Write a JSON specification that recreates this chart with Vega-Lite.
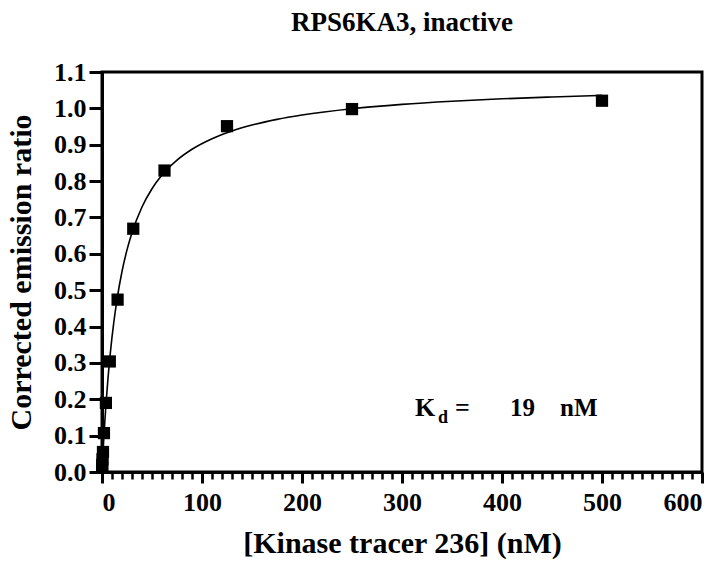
{
  "$schema": "https://vega.github.io/schema/vega-lite/v6.json",
  "autosize": "none",
  "width": 600,
  "height": 400,
  "padding": {"left": 102, "top": 72, "right": 22, "bottom": 96},
  "title": {"text": "RPS6KA3, inactive", "font": "Liberation Serif", "fontSize": 27, "fontWeight": "bold", "color": "black", "offset": 22, "anchor": "middle"},
  "config": {
    "view": {"stroke": "black", "strokeWidth": 3},
    "axis": {"grid": false, "labelFont": "Liberation Serif", "labelFontWeight": "bold", "labelFontSize": 26, "labelColor": "black", "labelOverlap": false, "titleFont": "Liberation Serif", "titleFontWeight": "bold", "titleFontSize": 30, "titleColor": "black", "domainColor": "black", "domainWidth": 3, "tickColor": "black", "tickWidth": 3}
  },
  "datasets": {
    "points": [
      {"conc": 0.12, "ratio": 0.012},
      {"conc": 0.24, "ratio": 0.02},
      {"conc": 0.49, "ratio": 0.035},
      {"conc": 0.98, "ratio": 0.055},
      {"conc": 1.95, "ratio": 0.107},
      {"conc": 3.9, "ratio": 0.19},
      {"conc": 7.8, "ratio": 0.304},
      {"conc": 15.6, "ratio": 0.474},
      {"conc": 31.25, "ratio": 0.669},
      {"conc": 62.5, "ratio": 0.829},
      {"conc": 125, "ratio": 0.951},
      {"conc": 250, "ratio": 0.998},
      {"conc": 500, "ratio": 1.021}
    ],
    "fit": [
      {"conc": 0, "ratio": 0},
      {"conc": 0.5, "ratio": 0.0276},
      {"conc": 1, "ratio": 0.0538},
      {"conc": 2, "ratio": 0.1024},
      {"conc": 3, "ratio": 0.1466},
      {"conc": 4, "ratio": 0.187},
      {"conc": 6, "ratio": 0.258},
      {"conc": 8, "ratio": 0.3185},
      {"conc": 10, "ratio": 0.3707},
      {"conc": 12, "ratio": 0.416},
      {"conc": 15, "ratio": 0.4743},
      {"conc": 20, "ratio": 0.5513},
      {"conc": 25, "ratio": 0.6108},
      {"conc": 30, "ratio": 0.6582},
      {"conc": 40, "ratio": 0.7288},
      {"conc": 50, "ratio": 0.779},
      {"conc": 60, "ratio": 0.8165},
      {"conc": 75, "ratio": 0.8577},
      {"conc": 90, "ratio": 0.8876},
      {"conc": 110, "ratio": 0.9167},
      {"conc": 130, "ratio": 0.9379},
      {"conc": 150, "ratio": 0.9541},
      {"conc": 175, "ratio": 0.9697},
      {"conc": 200, "ratio": 0.9817},
      {"conc": 250, "ratio": 0.9991},
      {"conc": 300, "ratio": 1.011},
      {"conc": 350, "ratio": 1.0196},
      {"conc": 400, "ratio": 1.0263},
      {"conc": 450, "ratio": 1.0314},
      {"conc": 500, "ratio": 1.0356}
    ],
    "one": [{}]
  },
  "layer": [
    {
      "data": {"name": "fit"},
      "mark": {"type": "line", "color": "black", "strokeWidth": 1.6, "interpolate": "monotone"},
      "encoding": {
        "x": {"field": "conc", "type": "quantitative", "scale": {"domain": [0, 600], "nice": false},
              "axis": {"values": [0,10,20,30,40,50,60,70,80,90,100,110,120,130,140,150,160,170,180,190,200,210,220,230,240,250,260,270,280,290,300,310,320,330,340,350,360,370,380,390,400,410,420,430,440,450,460,470,480,490,500,510,520,530,540,550,560,570,580,590,600],
                       "tickCount": 200,
                       "labelOverlap": false,
                       "labelExpr": "datum.value % 100 === 0 ? datum.label : ''",
                       "tickSize": {"condition": {"test": "datum.value % 100 === 0", "value": 11}, "value": 7},
                       "tickWidth": {"condition": {"test": "datum.value % 100 === 0", "value": 3}, "value": 2.5},
                       "labelPadding": 6, "title": "[Kinase tracer 236] (nM)", "titlePadding": 13}},
        "y": {"field": "ratio", "type": "quantitative", "scale": {"domain": [0, 1.1], "nice": false},
              "axis": {"values": [0, 0.1, 0.2, 0.3, 0.4, 0.5, 0.6, 0.7, 0.8, 0.9, 1.0, 1.1], "tickCount": 100, "labelOverlap": false, "format": ".1f", "tickSize": 13, "labelPadding": 3, "title": "Corrected emission ratio", "titlePadding": 17}}
      }
    },
    {
      "data": {"name": "points"},
      "mark": {"type": "point", "shape": "square", "filled": true, "color": "black", "opacity": 1, "size": 150},
      "encoding": {
        "x": {"field": "conc", "type": "quantitative"},
        "y": {"field": "ratio", "type": "quantitative"}
      }
    },
    {
      "data": {"name": "one"},
      "mark": {"type": "text", "font": "Liberation Serif", "fontWeight": "bold", "fontSize": 26, "align": "left", "baseline": "alphabetic", "color": "black"},
      "encoding": {"x": {"datum": 313, "type": "quantitative"}, "y": {"datum": 0.154, "type": "quantitative"}, "text": {"value": "K"}}
    },
    {
      "data": {"name": "one"},
      "mark": {"type": "text", "font": "Liberation Serif", "fontWeight": "bold", "fontSize": 18, "align": "left", "baseline": "alphabetic", "color": "black"},
      "encoding": {"x": {"datum": 336, "type": "quantitative"}, "y": {"datum": 0.135, "type": "quantitative"}, "text": {"value": "d"}}
    },
    {
      "data": {"name": "one"},
      "mark": {"type": "text", "font": "Liberation Serif", "fontWeight": "bold", "fontSize": 26, "align": "left", "baseline": "alphabetic", "color": "black"},
      "encoding": {"x": {"datum": 353, "type": "quantitative"}, "y": {"datum": 0.154, "type": "quantitative"}, "text": {"value": "="}}
    },
    {
      "data": {"name": "one"},
      "mark": {"type": "text", "font": "Liberation Serif", "fontWeight": "bold", "fontSize": 25, "align": "left", "baseline": "alphabetic", "color": "black"},
      "encoding": {"x": {"datum": 408, "type": "quantitative"}, "y": {"datum": 0.154, "type": "quantitative"}, "text": {"value": "19"}}
    },
    {
      "data": {"name": "one"},
      "mark": {"type": "text", "font": "Liberation Serif", "fontWeight": "bold", "fontSize": 25, "align": "left", "baseline": "alphabetic", "color": "black"},
      "encoding": {"x": {"datum": 458, "type": "quantitative"}, "y": {"datum": 0.154, "type": "quantitative"}, "text": {"value": "nM"}}
    }
  ]
}
